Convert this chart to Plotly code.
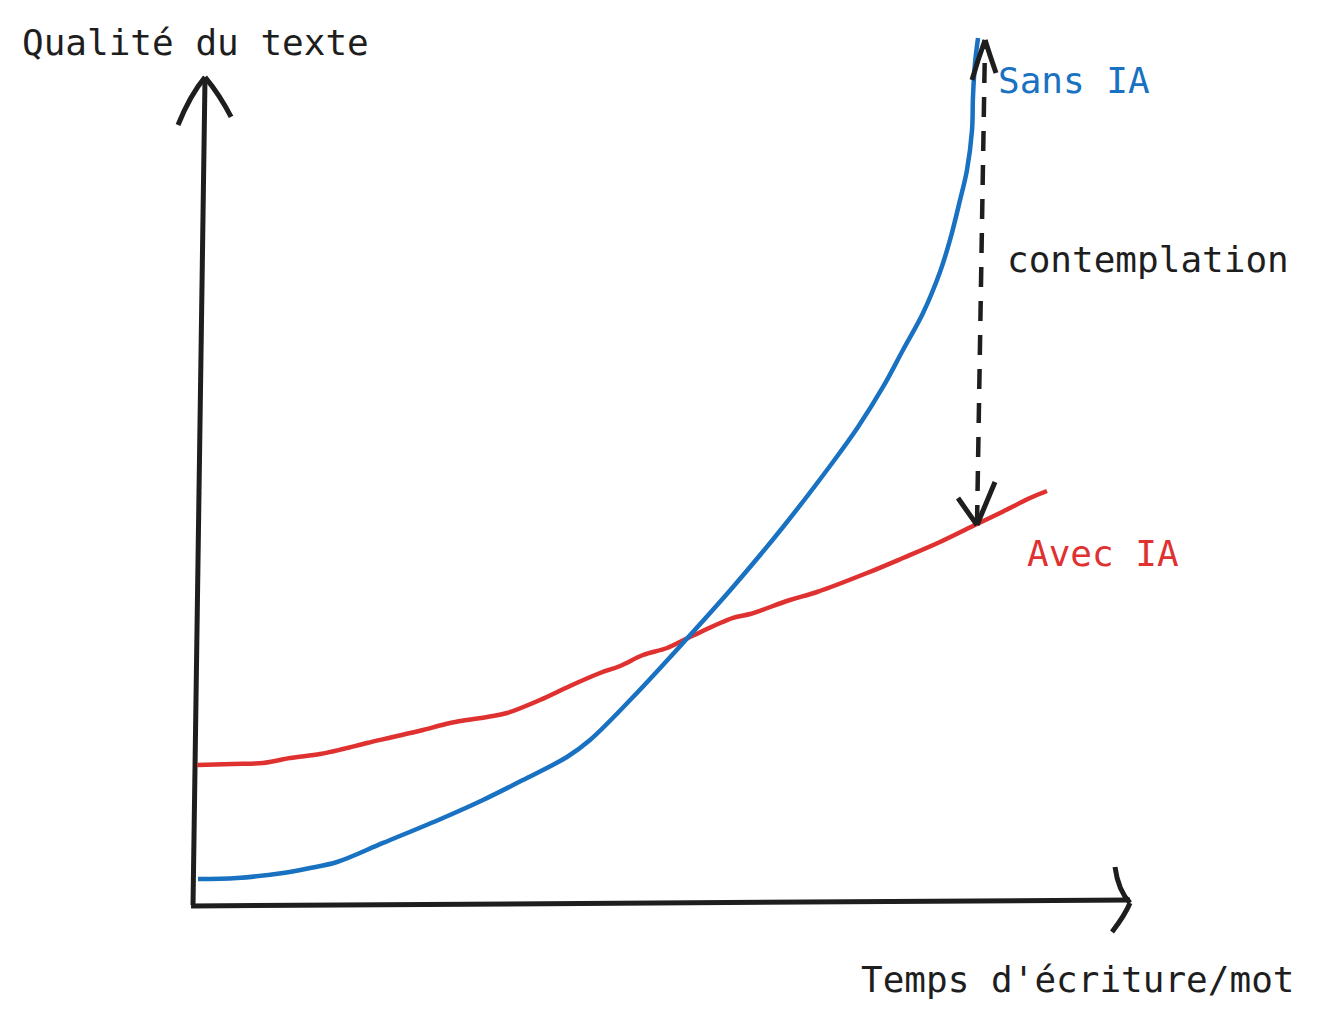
import plotly.graph_objects as go

# ---- data (time per word vs. text quality) ----
sans_ia_t = [0.53, 4.70, 9.61, 12.49, 15.37, 20.28, 26.68, 30.95, 35.22, 39.91, 42.37,
             46.96, 52.29, 57.63, 62.97, 68.30, 70.97, 73.64, 75.77, 77.91, 79.72,
             80.79, 81.86, 82.60, 83.14, 83.24, 83.46, 83.78]
sans_ia_q = [3.15, 3.27, 3.88, 4.48, 5.21, 7.52, 10.55, 12.73, 15.15, 17.94, 20.00,
             25.21, 31.76, 38.55, 45.82, 53.70, 57.94, 62.79, 67.27, 71.76, 76.73,
             80.61, 85.45, 89.09, 93.94, 97.94, 102.06, 105.09]

avec_ia_t = [0.43, 4.27, 7.47, 10.35, 13.55, 16.01, 18.57, 21.34, 24.55, 27.43,
             31.38, 33.51, 37.03, 40.23, 43.44, 45.57, 48.03, 50.59, 53.04, 57.63,
             59.45, 63.71, 66.60, 71.93, 75.77, 79.72, 83.67, 86.13, 89.33, 91.14]
avec_ia_q = [16.97, 17.09, 17.21, 17.82, 18.30, 18.91, 19.64, 20.36, 21.21, 22.06,
             22.79, 23.27, 24.85, 26.55, 28.12, 28.97, 30.30, 31.15, 32.48, 34.79,
             35.27, 36.97, 37.94, 40.24, 42.06, 44.00, 46.18, 47.52, 49.33, 50.18]

# contemplation gap (from "Avec IA" up to "Sans IA" at the same time)
gap_t = [83.67, 84.53]
gap_q = [46.06, 104.85]

labels = {
    "y": "Qualité du texte",
    "x": "Temps d'écriture/mot",
    "sans": "Sans IA",
    "avec": "Avec IA",
    "gap": "contemplation",
}

BLUE = "#1971c2"
RED = "#e03131"
INK = "#1e1e1e"
MONO = "DejaVu Sans Mono, Liberation Mono, monospace"

fig = go.Figure()

# axes (hand-drawn look)
fig.add_trace(go.Scatter(x=[0.0, 1.28], y=[0.0, 100.24], mode="lines",
                         line=dict(color=INK, width=5), hoverinfo="skip"))
fig.add_trace(go.Scatter(x=[-0.21, 100.0], y=[-0.12, 0.61], mode="lines",
                         line=dict(color=INK, width=5), hoverinfo="skip"))

# curves
fig.add_trace(go.Scatter(x=avec_ia_t, y=avec_ia_q, mode="lines", name=labels["avec"],
                         line=dict(color=RED, width=4.5, shape="spline", smoothing=1.0)))
fig.add_trace(go.Scatter(x=sans_ia_t, y=sans_ia_q, mode="lines", name=labels["sans"],
                         line=dict(color=BLUE, width=4.5, shape="spline", smoothing=1.0)))

# dashed double arrow
fig.add_trace(go.Scatter(x=gap_t, y=gap_q, mode="lines",
                         line=dict(color=INK, width=4.5, dash="20px,14px"), hoverinfo="skip"))

def wing(p0, c, p1):
    return dict(type="path", xref="x", yref="y",
                path=f"M {p0[0]},{p0[1]} Q {c[0]},{c[1]} {p1[0]},{p1[1]}",
                line=dict(color=INK, width=5), layer="above")

shapes = [
    # y-axis arrowhead
    wing((-1.60, 94.55), (-0.32, 98.18), (1.28, 100.36)),
    wing((1.28, 100.36), (2.88, 98.18), (4.06, 95.52)),
    # x-axis arrowhead
    wing((98.40, 4.61), (98.72, 1.82), (100.0, 0.24)),
    wing((100.0, 0.24), (99.47, -1.21), (98.08, -3.27)),
    # dashed arrow heads
    wing((83.14, 100.0), (83.80, 102.6), (84.53, 104.85)),
    wing((84.53, 104.85), (85.10, 102.8), (85.70, 100.85)),
    wing((81.64, 49.33), (82.70, 47.60), (83.67, 46.06)),
    wing((83.67, 46.06), (84.60, 48.60), (85.59, 51.27)),
]

annotations = [
    dict(text=labels["y"], x=0.0152, y=0.9591, font=dict(family=MONO, size=36, color=INK)),
    dict(text=labels["sans"], x=0.7551, y=0.9221, font=dict(family=MONO, size=36, color=BLUE)),
    dict(text=labels["gap"], x=0.7620, y=0.7478, font=dict(family=MONO, size=36, color=INK)),
    dict(text=labels["avec"], x=0.7771, y=0.4615, font=dict(family=MONO, size=36, color=RED)),
    dict(text=labels["x"], x=0.6510, y=0.0458, font=dict(family=MONO, size=36, color=INK)),
]
for a in annotations:
    a.update(xref="paper", yref="paper", xanchor="left", yanchor="middle", showarrow=False)

fig.update_layout(
    width=1319, height=1027,
    margin=dict(l=0, r=0, t=0, b=0),
    paper_bgcolor="white", plot_bgcolor="white",
    showlegend=False,
    xaxis=dict(range=[-20.60, 120.17], visible=False, fixedrange=True),
    yaxis=dict(range=[-14.79, 109.70], visible=False, fixedrange=True),
    shapes=shapes,
    annotations=annotations,
)

fig.write_html("out.html", config={"displayModeBar": False},
               post_script="document.body.style.margin='0';document.body.style.overflow='hidden';")
